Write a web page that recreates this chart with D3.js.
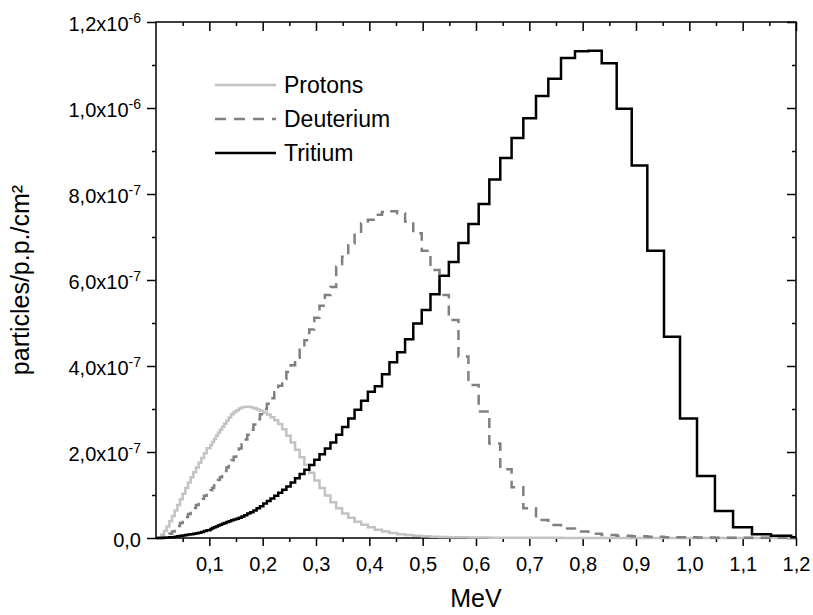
<!DOCTYPE html>
<html>
<head>
<meta charset="utf-8">
<script src="https://cdn.jsdelivr.net/npm/d3@7"></script>
<style>
  body { margin: 0; background: #fff; }
  svg { display: block; font-family: "Liberation Sans", Arial, sans-serif; }
</style>
</head>
<body>
<div id="chart"></div>
<script>
// Histogram bin edges (MeV). Every series shares them; value i belongs to [edge i, edge i+1).
const binEdges = [
    0, 0.005, 0.01, 0.015, 0.02, 0.025, 0.03, 0.035, 0.04, 0.045,
    0.05, 0.055, 0.06, 0.065, 0.07, 0.075, 0.08, 0.085, 0.09, 0.095,
    0.10199, 0.10535, 0.10881, 0.11239, 0.11609, 0.11991, 0.12386, 0.12793, 0.13214, 0.13649,
    0.14098, 0.14562, 0.15041, 0.15536, 0.16047, 0.16575, 0.17121, 0.17684, 0.18266, 0.18867,
    0.19488, 0.20129, 0.20791, 0.21475, 0.22182, 0.22911, 0.23665, 0.24444, 0.25248, 0.26079,
    0.26937, 0.27823, 0.28738, 0.29684, 0.30660, 0.31669, 0.32711, 0.33787, 0.34899, 0.36047,
    0.37233, 0.38458, 0.39723, 0.41030, 0.42379, 0.43774, 0.45214, 0.46701, 0.48238, 0.49825,
    0.51464, 0.53157, 0.54906, 0.56712, 0.58578, 0.60506, 0.62496, 0.64552, 0.66676,
    0.6887, 0.7125, 0.7356, 0.7594, 0.7856, 0.8106, 0.8357, 0.8638, 0.892, 0.9212,
    0.9525, 0.9825, 1.0144, 1.048, 1.082, 1.1175, 1.153, 1.191, 1.2
];

// Values in units of 1e-7 particles/p.p./cm2.
const protons = [
    0, 0.02, 0.08, 0.16, 0.27, 0.39, 0.51, 0.64, 0.77, 0.90,
    1.03, 1.16, 1.29, 1.41, 1.53, 1.64, 1.75, 1.86, 1.97, 2.09,
    2.16, 2.23, 2.30, 2.38, 2.45, 2.52, 2.59, 2.66, 2.73, 2.80,
    2.88, 2.93, 2.97, 3.01, 3.04, 3.05, 3.05, 3.04, 3.02, 2.99,
    2.96, 2.92, 2.87, 2.81, 2.74, 2.65, 2.53, 2.38, 2.22, 2.05,
    1.88, 1.70, 1.52, 1.34, 1.16, 0.99, 0.83, 0.69, 0.57, 0.47,
    0.38, 0.31, 0.25, 0.19, 0.15, 0.115, 0.088, 0.068, 0.052, 0.040,
    0.031, 0.024, 0.019, 0.015, 0.012, 0.009, 0.007, 0.006, 0.005,
    0.004, 0.003, 0.003, 0.002, 0.002, 0.002, 0.001, 0.001, 0.001,
    0.001, 0.001, 0.001, 0.001, 0, 0, 0, 0, 0
];
const deuterium = [
    0, 0, 0.01, 0.03, 0.06, 0.10, 0.15, 0.21, 0.28, 0.35,
    0.42, 0.49, 0.56, 0.63, 0.70, 0.77, 0.84, 0.91, 0.98, 1.05,
    1.11, 1.16, 1.22, 1.28, 1.35, 1.41, 1.48, 1.56, 1.64, 1.72,
    1.81, 1.89, 1.98, 2.08, 2.18, 2.29, 2.40, 2.52, 2.64, 2.76,
    2.88, 3.00, 3.12, 3.25, 3.39, 3.54, 3.70, 3.86, 4.02, 4.19,
    4.38, 4.60, 4.85, 5.12, 5.40, 5.65, 5.84, 6.31, 6.54, 6.85,
    7.05, 7.32, 7.40, 7.52, 7.58, 7.60, 7.55, 7.36, 7.09, 6.68,
    6.23, 5.65, 5.07, 4.22, 3.56, 2.94, 2.20, 1.60, 1.18,
    0.69, 0.42, 0.30, 0.22, 0.15, 0.10, 0.07, 0.05, 0.04,
    0.03, 0.02, 0.015, 0.01, 0.008, 0.006, 0.004, 0.003, 0.002
];
const tritium = [
    0, 0, 0, 0.005, 0.01, 0.015, 0.02, 0.03, 0.04, 0.05,
    0.06, 0.07, 0.08, 0.09, 0.10, 0.11, 0.12, 0.14, 0.16, 0.18,
    0.21, 0.23, 0.25, 0.27, 0.29, 0.31, 0.33, 0.35, 0.37, 0.39,
    0.41, 0.43, 0.45, 0.47, 0.50, 0.53, 0.57, 0.60, 0.64, 0.69,
    0.74, 0.80, 0.86, 0.92, 0.98, 1.05, 1.12, 1.20, 1.29, 1.39,
    1.49, 1.59, 1.70, 1.82, 1.95, 2.08, 2.22, 2.40, 2.58, 2.78,
    2.98, 3.19, 3.40, 3.53, 3.81, 4.09, 4.32, 4.62, 4.99, 5.30,
    5.67, 6.10, 6.42, 6.86, 7.30, 7.77, 8.34, 8.84, 9.30,
    9.76, 10.28, 10.68, 11.16, 11.32, 11.33, 11.04, 9.98, 8.66,
    6.68, 4.68, 2.78, 1.44, 0.63, 0.25, 0.09, 0.05, 0.02
];
const valueUnit = 1e-7;

const seriesNames = ['Protons', 'Deuterium', 'Tritium'];
const seriesValues = [protons, deuterium, tritium];

// Axis ticks and labels.
const xTicks = [0.1, 0.2, 0.3, 0.4, 0.5, 0.6, 0.7, 0.8, 0.9, 1.0, 1.1, 1.2];
const xMinorTicks = [0.05, 0.15, 0.25, 0.35, 0.45, 0.55, 0.65, 0.75, 0.85, 0.95, 1.05, 1.15];
const yTicks = [0, 2e-7, 4e-7, 6e-7, 8e-7, 1.0e-6, 1.2e-6];
const yMinorTicks = [1e-7, 3e-7, 5e-7, 7e-7, 9e-7, 1.1e-6];
const yTickMantissa = ['0,0', '2,0x10', '4,0x10', '6,0x10', '8,0x10', '1,0x10', '1,2x10'];
const yTickExponent = ['', '-7', '-7', '-7', '-7', '-6', '-6'];
const xTitle = 'MeV';
const yTitle = 'particles/p.p./cm²';

// Set the dimensions and margins of the chart.
const totalWidth = 813;
const totalHeight = 615;
const margin = {top: 22, right: 17, bottom: 77, left: 156};
const width = totalWidth - margin.left - margin.right;
const height = totalHeight - margin.top - margin.bottom;

const svg = d3.select('#chart')
    .append('svg')
        .attr('width', totalWidth)
        .attr('height', totalHeight)
        .attr('viewBox', `0 0 ${totalWidth} ${totalHeight}`);
const g = svg.append('g')
    .attr('transform', `translate(${margin.left},${margin.top})`);

// Scales.
const x = d3.scaleLinear().domain([0, 1.2]).range([0, width]);
const y = d3.scaleLinear().domain([0, 1.2e-6]).range([height, 0]);

// d3 axes set their own font; drop it so the page font applies.
const styleAxis = sel => {
    sel.attr('font-family', null).attr('font-size', null);
    sel.select('.domain').remove();
    sel.selectAll('line').attr('stroke', '#000').attr('stroke-width', 1.5);
};

// Bottom axis with labels, plus minor ticks.
g.append('g')
    .attr('transform', `translate(0,${height})`)
    .call(d3.axisBottom(x).tickValues(xTicks).tickSize(8).tickPadding(11)
        .tickFormat(d => d3.format('.1f')(d).replace('.', ',')))
    .call(styleAxis)
    .selectAll('text')
        .attr('fill', '#000')
        .style('font-size', '20px');
g.append('g')
    .attr('transform', `translate(0,${height})`)
    .call(d3.axisBottom(x).tickValues(xMinorTicks).tickSize(4).tickFormat(''))
    .call(styleAxis);

// Top axis: inward ticks only.
g.append('g')
    .call(d3.axisTop(x).tickValues(xTicks).tickSize(-9).tickFormat(''))
    .call(styleAxis);
g.append('g')
    .call(d3.axisTop(x).tickValues(xMinorTicks).tickSize(-4).tickFormat(''))
    .call(styleAxis);

// Left axis with scientific labels.
const yAxis = g.append('g')
    .call(d3.axisLeft(y).tickValues(yTicks).tickSize(9).tickPadding(6).tickFormat(''))
    .call(styleAxis);
yAxis.selectAll('.tick text')
    .attr('fill', '#000')
    .attr('dy', '0.4em')
    .style('font-size', '20px')
    .each(function(d, i) {
        const t = d3.select(this);
        t.append('tspan').text(yTickMantissa[i]);
        if (yTickExponent[i]) {
            t.append('tspan')
                .attr('dy', '-0.55em')
                .style('font-size', '14px')
                .text(yTickExponent[i]);
        }
    });
g.append('g')
    .call(d3.axisLeft(y).tickValues(yMinorTicks).tickSize(4).tickFormat(''))
    .call(styleAxis);

// Right axis: inward ticks only.
g.append('g')
    .attr('transform', `translate(${width},0)`)
    .call(d3.axisRight(y).tickValues(yTicks).tickSize(-9).tickFormat(''))
    .call(styleAxis);
g.append('g')
    .attr('transform', `translate(${width},0)`)
    .call(d3.axisRight(y).tickValues(yMinorTicks).tickSize(-4).tickFormat(''))
    .call(styleAxis);

// Frame.
g.append('rect')
    .attr('width', width)
    .attr('height', height)
    .attr('fill', 'none')
    .attr('stroke', '#000')
    .attr('stroke-width', 1.5);

// Axis titles.
svg.append('text')
    .attr('x', margin.left + width / 2)
    .attr('y', 607)
    .attr('text-anchor', 'middle')
    .style('font-size', '25px')
    .text(xTitle);
svg.append('text')
    .attr('transform', `translate(29,${margin.top + height / 2}) rotate(-90)`)
    .attr('text-anchor', 'middle')
    .style('font-size', '25px')
    .text(yTitle);

// Step histograms.
const colors = ['#c3c3c3', '#808080', '#000000'];
const dashes = [null, '10,7', null];
const stepLine = d3.line()
    .x(d => x(d[0]))
    .y(d => y(d[1] * valueUnit))
    .curve(d3.curveStepAfter);

seriesValues.forEach((vals, i) => {
    const pts = vals.map((v, k) => [binEdges[k], v]);
    pts.push([binEdges[binEdges.length - 1], vals[vals.length - 1]]);
    g.append('path')
        .datum(pts)
        .attr('fill', 'none')
        .attr('stroke', colors[i])
        .attr('stroke-width', 2.5)
        .attr('stroke-dasharray', dashes[i])
        .attr('stroke-linejoin', 'miter')
        .attr('d', stepLine);
});

// Legend.
const legend = svg.append('g');
seriesNames.forEach((name, i) => {
    const ly = 85 + i * 34;
    legend.append('line')
        .attr('x1', 215).attr('x2', 276)
        .attr('y1', ly).attr('y2', ly)
        .attr('stroke', colors[i])
        .attr('stroke-width', 2.5)
        .attr('stroke-dasharray', dashes[i] ? '11,8' : null);
    legend.append('text')
        .attr('x', 284)
        .attr('y', ly + 8)
        .style('font-size', '23px')
        .text(name);
});
</script>
</body>
</html>
